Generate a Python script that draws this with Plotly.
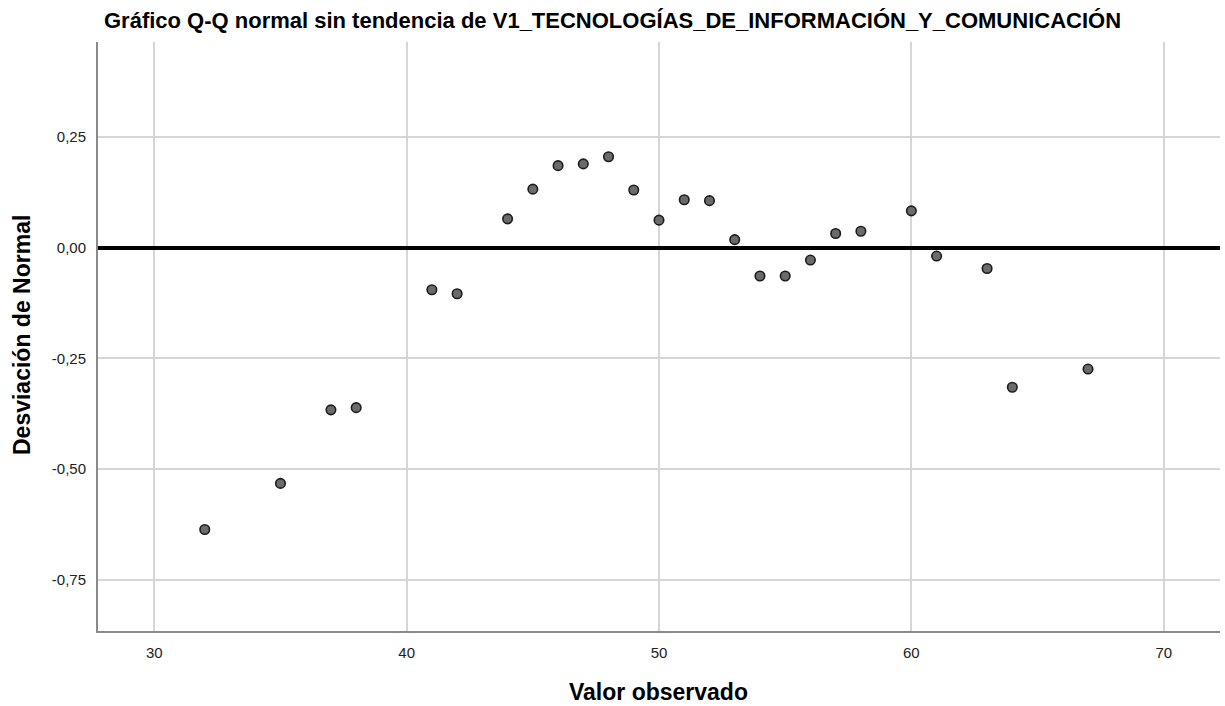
import plotly.graph_objects as go

# Observed values and their deviation from the normal expectation
valor_observado = [32, 35, 37, 38, 41, 42, 44, 45, 46, 47, 48, 49, 50, 51, 52,
                   53, 54, 55, 56, 57, 58, 60, 61, 63, 64, 67]
desviacion = [-0.636, -0.532, -0.366, -0.361, -0.095, -0.104, 0.065, 0.132,
              0.185, 0.189, 0.205, 0.130, 0.062, 0.108, 0.106, 0.018, -0.064,
              -0.064, -0.028, 0.032, 0.037, 0.083, -0.019, -0.047, -0.315,
              -0.274]

x_ticks = [30, 40, 50, 60, 70]
y_ticks = [-0.75, -0.50, -0.25, 0.00, 0.25]
y_tick_labels = ["-0,75", "-0,50", "-0,25", "0,00", "0,25"]

titulo = "Gráfico Q-Q normal sin tendencia de V1_TECNOLOGÍAS_DE_INFORMACIÓN_Y_COMUNICACIÓN"
titulo_x = "Valor observado"
titulo_y = "Desviación de Normal"

font_family = "Liberation Sans, Arial, sans-serif"

fig = go.Figure()

fig.add_trace(go.Scatter(
    x=valor_observado,
    y=desviacion,
    mode="markers",
    marker=dict(size=9.5, color="#6b6b6b",
                line=dict(color="#1c1c1c", width=1.6)),
    showlegend=False,
    hoverinfo="x+y",
))

fig.update_layout(
    width=1225, height=706,
    margin=dict(l=98, r=5, t=42, b=75),
    paper_bgcolor="white",
    plot_bgcolor="white",
    separators=",.",
    font=dict(family=font_family, color="#222222", size=15),
    title=dict(text="<b>" + titulo + "</b>", x=0.5, xanchor="center",
               y=1 - 20 / 706, yanchor="middle",
               font=dict(family=font_family, size=22, color="black")),
    xaxis=dict(
        range=[27.77, 72.23],
        tickvals=x_ticks,
        showgrid=True, gridcolor="#d6d6d6", gridwidth=1.5,
        zeroline=False,
        showline=True, linecolor="#8a8a8a", linewidth=2,
        ticks="", ticklabelstandoff=7,
        tickfont=dict(family=font_family, size=15, color="#222222"),
    ),
    yaxis=dict(
        range=[-0.865, 0.464],
        tickvals=y_ticks, ticktext=y_tick_labels,
        showgrid=True, gridcolor="#d6d6d6", gridwidth=1.5,
        # reference line at zero deviation
        zeroline=True, zerolinecolor="black", zerolinewidth=3.5,
        showline=True, linecolor="#8a8a8a", linewidth=2,
        ticks="", ticklabelstandoff=7,
        tickfont=dict(family=font_family, size=15, color="#222222"),
    ),
    annotations=[
        dict(text="<b>" + titulo_x + "</b>", xref="paper", yref="paper",
             x=(658 - 98) / (1225 - 98 - 5), y=-(692 - 631) / (706 - 42 - 75),
             xanchor="center", yanchor="middle", showarrow=False,
             font=dict(family=font_family, size=23, color="black")),
        dict(text="<b>" + titulo_y + "</b>", xref="paper", yref="paper",
             x=-(98 - 22) / (1225 - 98 - 5), y=(631 - 335) / (706 - 42 - 75),
             xanchor="center", yanchor="middle", textangle=-90, showarrow=False,
             font=dict(family=font_family, size=23, color="black")),
    ],
)

fig.write_html("out.html")
